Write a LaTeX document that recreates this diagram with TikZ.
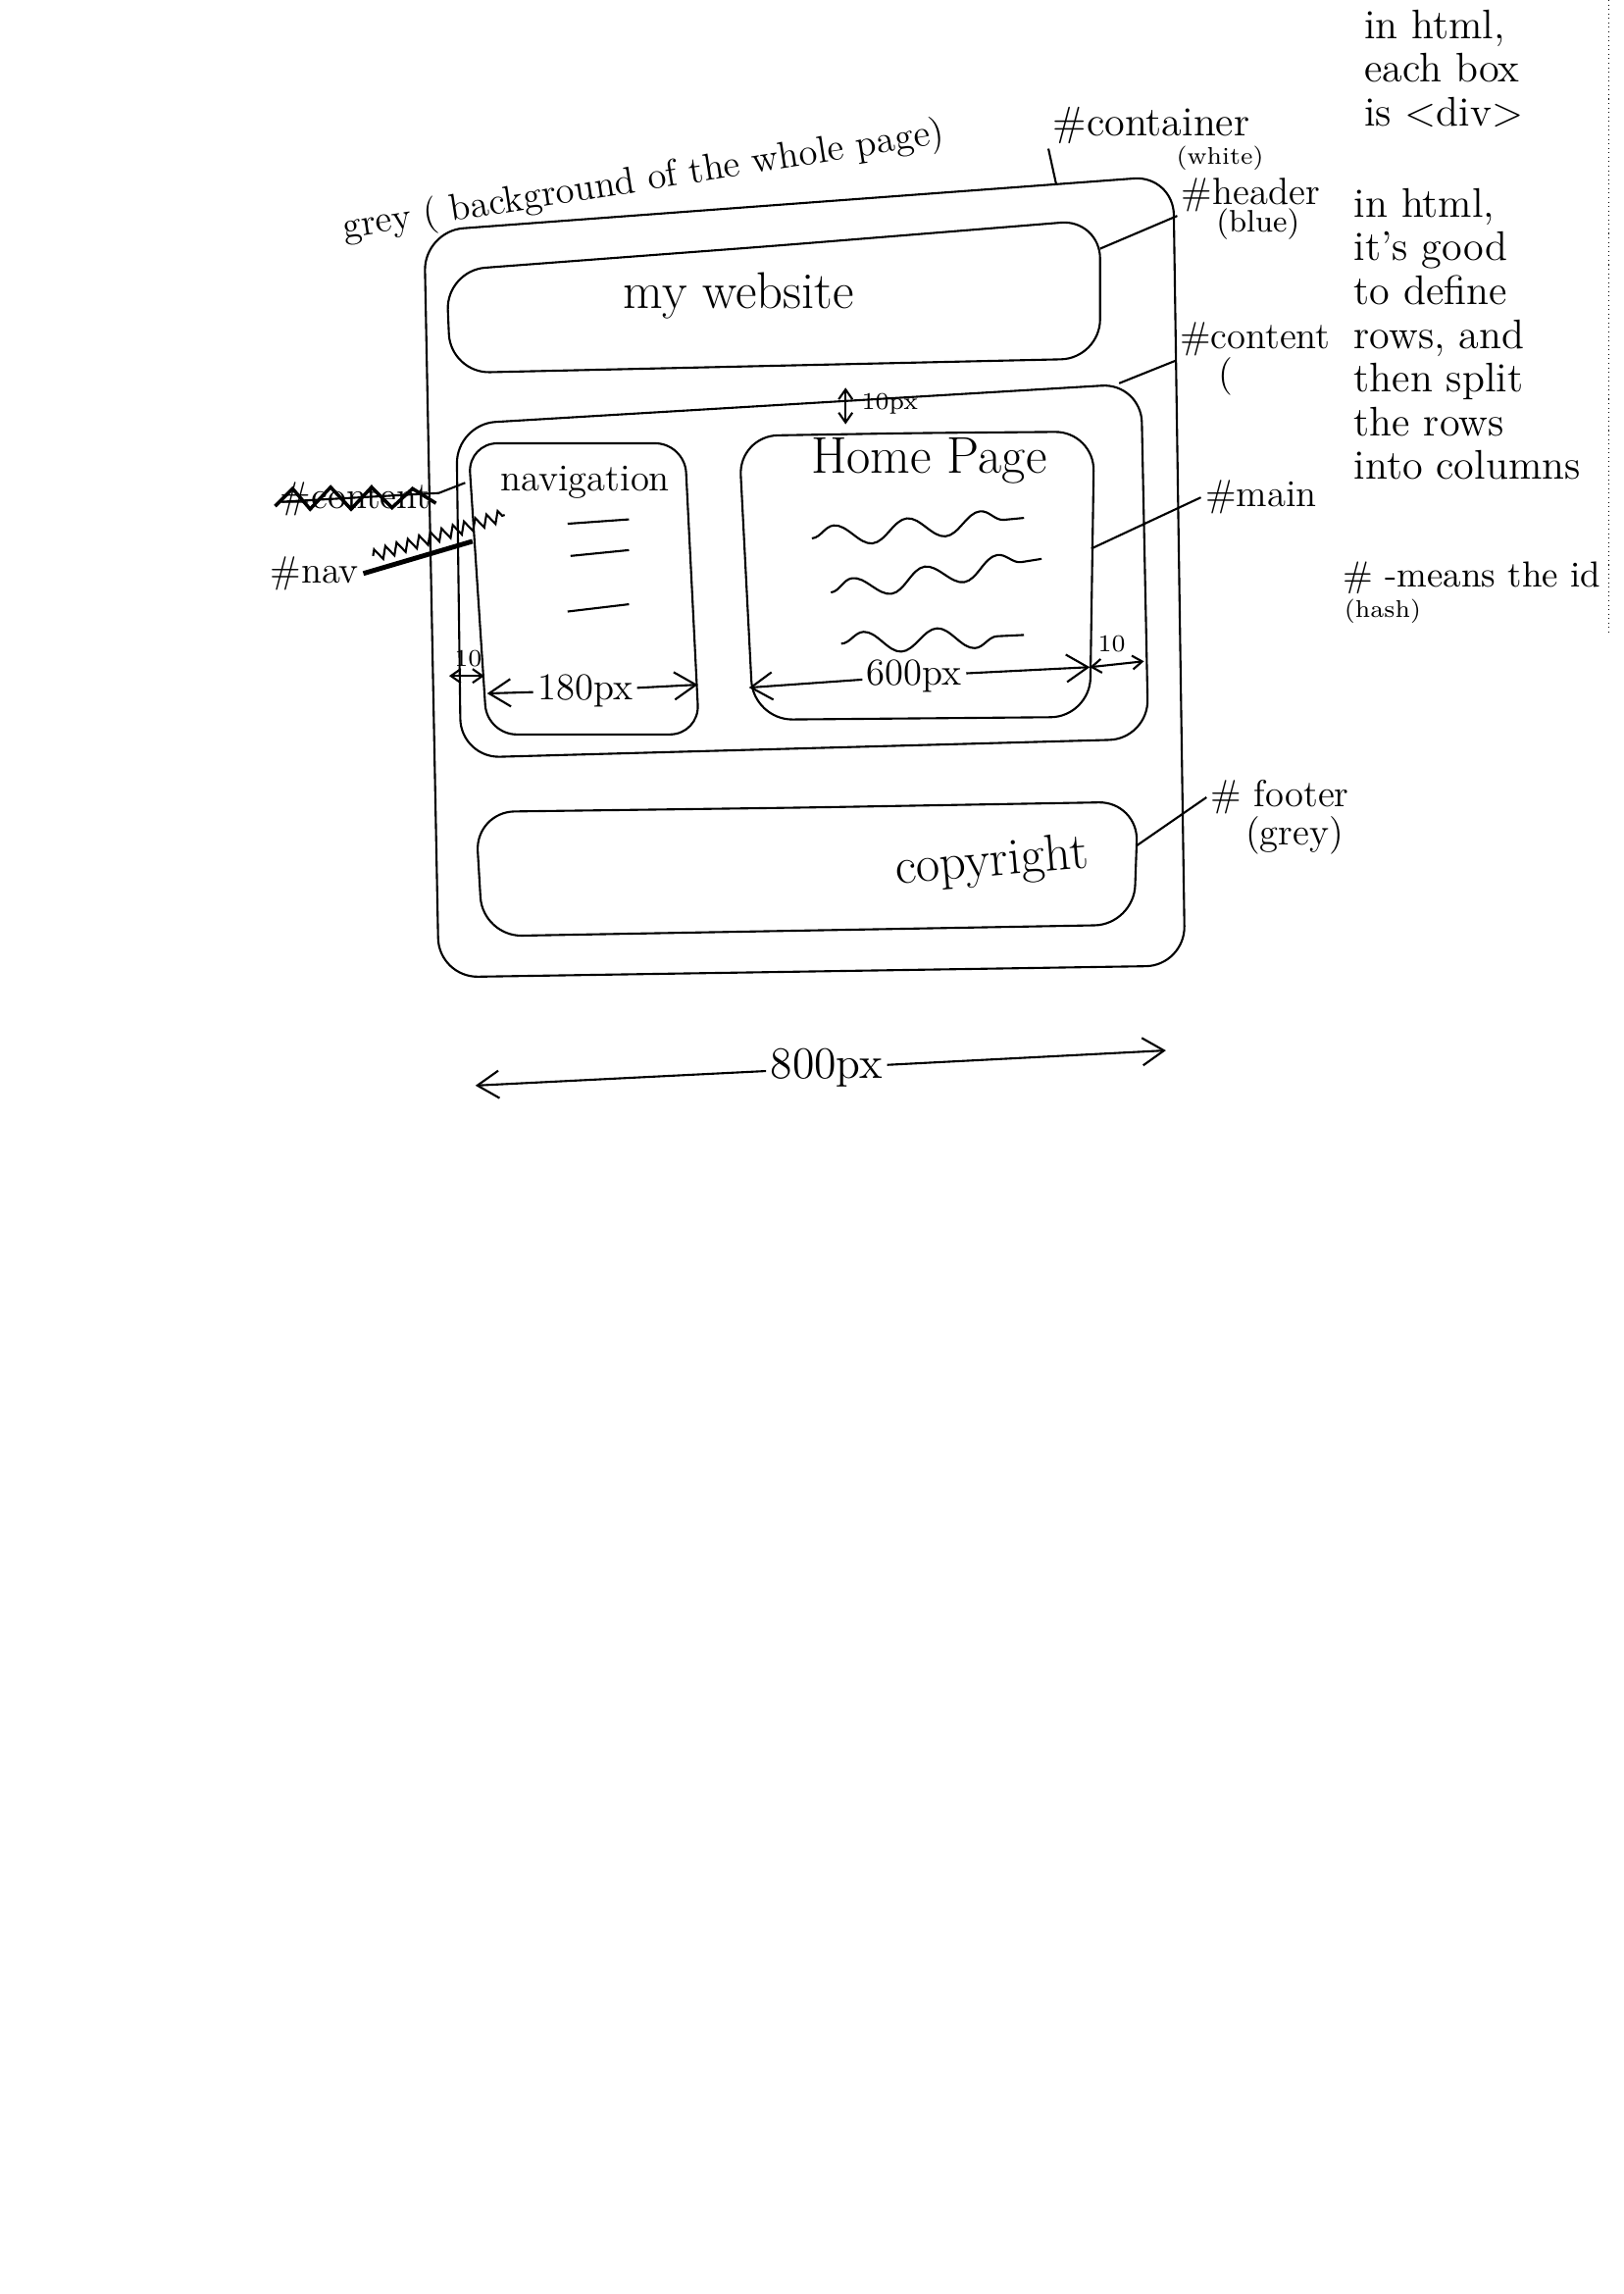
\documentclass[tikz,border=0pt]{standalone}
\usetikzlibrary{arrows.meta,decorations.pathmorphing}
\tikzset{
  >={Straight Barb[length=2.2mm,width=2.8mm]},
  box/.style={draw,rounded corners=4mm},
  lb/.style={font=\fontsize{11}{13}\selectfont,inner sep=1pt},
  big/.style={font=\fontsize{15}{18}\selectfont,inner sep=1pt},
  sm/.style={font=\fontsize{7}{8}\selectfont,inner sep=1pt},
  note/.style={font=\fontsize{12}{12.7}\selectfont,align=left,inner sep=0pt,anchor=north west},
  wave/.style={decorate,decoration={snake,segment length=7.5mm,amplitude=1.1mm}},
  every picture/.style={line width=0.6pt},
}
\begin{document}
\begin{tikzpicture}[x=0.01492cm,y=-0.01492cm]
\useasboundingbox (0,0) rectangle (1110,1568);
% boxes of the page
\draw[box] (546,139) -- (802,120) -- (810,660) -- (300,668) -- (290,158) -- cycle;
\draw[box] (530,168) -- (752,150) -- (752,245) -- (308,255) -- (305,185) -- cycle;
\draw[box] (546,276) -- (780,262) -- (785,505) -- (315,518) -- (312,290) -- cycle;
\draw[box,rounded corners=3mm] (394,303) -- (468,303) -- (478,502) -- (333,502) -- (320,303) -- cycle;
\draw[box] (626,296) -- (748,295) -- (745,490) -- (515,492) -- (505,298) -- cycle;
\draw[box] (550,552) -- (778,548) -- (775,632) -- (330,640) -- (325,555) -- cycle;
% texts in the boxes
\node[big] (site) at (505,202) {my website};
\node[lb] (navt) at (400,330) {navigation};
\node[big] (home) at (635,315) {Home Page};
\node[big,rotate=5] (copy) at (678,590) {copyright};
\draw (388,358) -- (430,355); \draw (390,380) -- (430,376); \draw (388,418) -- (430,413);
\draw[wave] (555,368) -- (700,354); \draw[wave] (568,405) -- (712,382); \draw[wave] (575,440) -- (700,434);
% sizes
\coordinate (v1) at (578,265); \coordinate (v2) at (578,290);
\draw[<->,>={Straight Barb[length=1mm,width=1.4mm]}] (v1) -- (v2); \node[sm,anchor=west] (t10px) at (586,276) {10px};
\coordinate (c1) at (307,462); \coordinate (n0) at (331,462);
\draw[<->,>={Straight Barb[length=1mm,width=1.4mm]}] (c1) -- (n0); \node[sm] (t10a) at (320,450) {10};
\node[lb] (d180) at (400,472) {180px};
\coordinate (n1) at (333,474); \coordinate (n2) at (477,468);
\draw[->] (d180) -- (n1); \draw[->] (d180) -- (n2);
\node[lb] (d600) at (625,462) {600px};
\coordinate (m1) at (512,470); \coordinate (m2) at (745,456); \coordinate (c2) at (782,452);
\draw[->] (d600) -- (m1); \draw[->] (d600) -- (m2);
\draw[<->,>={Straight Barb[length=1mm,width=1.4mm]}] (m2) -- (c2); \node[sm] (t10b) at (760,440) {10};
\node[lb,font=\fontsize{13}{15}\selectfont] (d800) at (565,730) {800px};
\coordinate (w1) at (325,742); \coordinate (w2) at (797,718);
\draw[->] (d800) -- (w1); \draw[->] (d800) -- (w2);
% names of the boxes
\node[lb,rotate=9] (grey) at (440,124) {grey ( background of the whole page)};
\node[lb,font=\fontsize{12}{14}\selectfont] (lcont) at (787,86) {\#container};
\node[sm] (white) at (834,108) {(white)};
\coordinate (ct) at (722,126); \draw (ct) -- (lcont.south west);
\node[lb] (lhead) at (855,133) {\#header}; \node[lb,font=\fontsize{9}{10}\selectfont] (blue) at (860,153) {(blue)};
\coordinate (ht) at (752,170); \draw (ht) -- (lhead.south west);
\node[lb] (lcontent) at (858,232) {\#content}; \node[lb] (paren) at (838,257) {(};
\coordinate (cn) at (765,262); \draw (cn) -- (lcontent.south west);
\node[lb] (lmain) at (862,340) {\#main};
\coordinate (mn) at (746,375); \draw (mn) -- (lmain.west);
\node[lb] (lfoot) at (875,545) {\# footer}; \node[lb] (greyf) at (885,571) {(grey)};
\coordinate (ft) at (777,578); \draw (ft) -- (lfoot.west);
\node[lb] (lnav) at (215,392) {\#nav};
\coordinate (nv) at (323,370); \draw[line width=1.4pt] (lnav.east) -- (nv);
% crossed out words
\node[lb] (old) at (243,341) {\#content};
\draw[line width=1pt] (188,346) -- (200,334) -- (212,348) -- (226,333) -- (240,348) -- (254,333) -- (268,347) -- (282,334) -- (298,344);
\draw (192,343) -- (300,337) -- (318,330);
\draw[decorate,decoration={zigzag,segment length=1.2mm,amplitude=0.6mm}] (255,380) -- (345,352);
% notes on the right
\node[note] (note1) at (932,6) {in html,\\each box\\is {<}div{>}};
\node[note] (note2) at (925,128) {in html,\\it's good\\to define\\rows, and\\then split\\the rows\\into columns};
\node[lb,font=\fontsize{10.5}{12}\selectfont,anchor=west] (hash) at (915,395) {\# -means the id};
\node[sm,anchor=west] (hashw) at (916,418) {(hash)};
\coordinate (p1) at (1100,0); \coordinate (p2) at (1100,432);
\draw[densely dotted,line width=0.3pt] (p1) -- (p2);
\end{tikzpicture}
\end{document}
